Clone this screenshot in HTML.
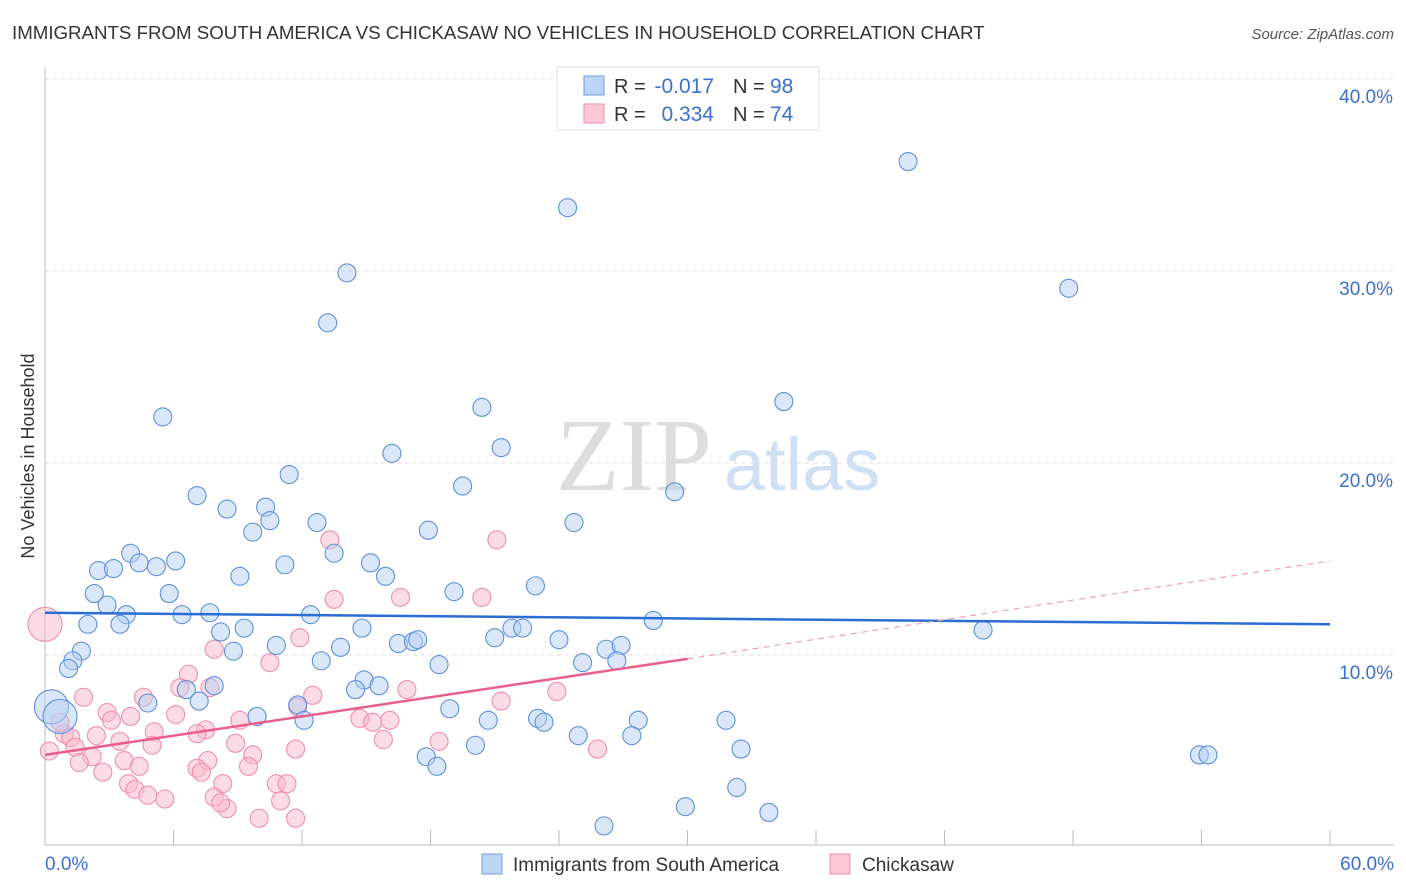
<!DOCTYPE html>
<html><head><meta charset="utf-8"><style>
body{margin:0;background:#fff;font-family:"Liberation Sans",sans-serif}
svg{display:block}
</style></head><body>
<svg id="c" width="1406" height="892" viewBox="0 0 1406 892" xmlns="http://www.w3.org/2000/svg">
<text x="12" y="39" font-size="18.7" fill="#333">IMMIGRANTS FROM SOUTH AMERICA VS CHICKASAW NO VEHICLES IN HOUSEHOLD CORRELATION CHART</text>
<text x="1394" y="39" font-size="15" fill="#555" text-anchor="end" font-style="italic">Source: ZipAtlas.com</text>
<g>
<text x="634" y="490" font-size="104" fill="#ddd" font-family="Liberation Serif,serif" text-anchor="middle">ZIP</text>
<text x="802" y="490" font-size="74" fill="#cfe0f3" text-anchor="middle">atlas</text>
</g>
<g id="grid"></g>
<g id="axes"></g>
<g id="pts"></g>
<g id="trend"></g>
<text transform="translate(34,456) rotate(-90)" font-size="18" fill="#333" text-anchor="middle">No Vehicles in Household</text>
<g>
<rect x="557" y="67" width="262" height="63" fill="#fff" stroke="#ddd"/>
<rect x="584" y="76" width="20" height="19" fill="#bcd4f5" stroke="#6c9be0"/>
<rect x="584" y="104" width="20" height="19" fill="#fcc8d8" stroke="#ee90ac"/>
<text x="614" y="93" font-size="20" fill="#333">R =</text>
<text x="714" y="93" font-size="21" fill="#3b6fd0" text-anchor="end">-0.017</text>
<text x="733" y="93" font-size="20" fill="#333">N =</text>
<text x="770" y="93" font-size="21" fill="#3b6fd0">98</text>
<text x="614" y="121" font-size="20" fill="#333">R =</text>
<text x="714" y="121" font-size="21" fill="#3b6fd0" text-anchor="end">0.334</text>
<text x="733" y="121" font-size="20" fill="#333">N =</text>
<text x="770" y="121" font-size="21" fill="#3b6fd0">74</text>
</g>
<g>
<rect x="482" y="854" width="20" height="20" fill="#bcd4f5" stroke="#6c9be0"/>
<text x="513" y="871" font-size="19" fill="#333">Immigrants from South America</text>
<rect x="830" y="854" width="20" height="20" fill="#fcc8d8" stroke="#ee90ac"/>
<text x="862" y="871" font-size="19" fill="#333">Chickasaw</text>
</g>
</svg>
<script>
const yTicks=[10,20,30,40];
const yTickLabels=["10.0%","20.0%","30.0%","40.0%"];
const xTickLabels=["0.0%","60.0%"];
const blueX=[40.3,24.4,47.8,14.1,13.2,34.5,5.5,20.4,21.3,16.2,11.4,19.5,29.4,7.1,8.5,10.3,10.5,12.7,9.7,24.7,17.9,4.0,4.4,6.1,5.2,2.5,3.2,13.5,15.2,11.2,9.1,15.9,22.9,2.3,5.8,19.1,2.9,3.8,6.4,7.7,12.4,3.5,2.0,28.4,9.3,8.2,14.8,43.8,21.8,22.3,21.0,24.0,16.5,10.8,17.2,17.4,8.8,13.8,26.2,26.9,1.7,1.3,1.1,12.9,25.1,26.7,18.4,14.9,7.9,6.6,14.5,15.6,11.8,7.2,4.8,18.9,20.7,12.1,23.0,23.3,27.7,31.8,9.9,24.9,27.4,20.1,32.5,17.8,18.3,53.9,54.3,32.3,29.9,33.8,26.1,0.3,0.7];
const blueY=[35.7,33.3,29.1,29.9,27.3,23.2,22.4,22.9,20.8,20.5,19.4,18.8,18.5,18.3,17.6,17.7,17.0,16.9,16.4,16.9,16.5,15.3,14.8,14.9,14.6,14.4,14.5,15.3,14.8,14.7,14.1,14.1,13.6,13.2,13.2,13.3,12.6,12.1,12.1,12.2,12.1,11.6,11.6,11.8,11.4,11.2,11.4,11.3,11.4,11.4,10.9,10.8,10.6,10.5,10.7,10.8,10.2,10.4,10.3,10.5,10.2,9.7,9.3,9.7,9.6,9.7,9.5,8.7,8.4,8.2,8.2,8.4,7.4,7.6,7.5,7.2,6.6,6.6,6.7,6.5,6.6,6.6,6.8,5.8,5.8,5.3,5.1,4.7,4.2,4.8,4.8,3.1,2.1,1.8,1.1,7.3,6.8];
const pinkX=[13.3,21.1,20.4,13.5,16.6,11.9,7.9,10.5,6.7,6.3,16.9,23.9,1.8,4.6,12.5,7.7,21.3,11.8,2.9,3.1,4.0,6.1,14.7,15.3,16.1,9.1,7.5,5.1,7.1,0.9,2.4,1.2,3.5,15.8,18.4,8.9,5.0,11.7,1.4,9.7,0.2,2.2,3.7,7.6,1.6,25.8,4.4,9.5,7.1,7.3,2.7,8.3,10.8,11.3,3.9,4.2,4.8,5.6,7.9,11.0,8.5,8.2,10.0,11.7,0.0,0.7];
const pinkY=[16.0,16.0,13.0,12.9,13.0,10.9,10.3,9.6,9.0,8.3,8.2,8.1,7.8,7.8,7.9,8.3,7.6,7.3,7.0,6.6,6.8,6.9,6.7,6.5,6.6,6.6,6.1,6.0,5.9,5.9,5.8,5.7,5.5,5.6,5.5,5.4,5.3,5.1,5.2,4.8,5.0,4.7,4.5,4.5,4.4,5.1,4.2,4.2,4.1,3.9,3.9,3.3,3.3,3.3,3.3,3.0,2.7,2.5,2.6,2.4,2.0,2.3,1.5,1.5,11.6,6.5];
const blueTrend=[[0,12.2],[60,11.6]];
const pinkTrend=[[0,4.8],[30,9.8]];
const pinkTrendExt=[[30,9.8],[60,14.9]];
const NS="http://www.w3.org/2000/svg";
const X=v=>45+v/60*1285, Y=v=>847-v*19.2;
function mk(t,a,p){const e=document.createElementNS(NS,t);for(const k in a)e.setAttribute(k,a[k]);document.getElementById(p).appendChild(e);return e;}
yTicks.forEach((t,i)=>{
 const g=mk('line',{x1:45,x2:1394,y1:Y(t),y2:Y(t),stroke:'#ddd','stroke-dasharray':'4,4'},'grid');
 
 
 const l=mk('text',{x:1393,y:Y(t)+24,'font-size':19,fill:'#3b6fd0','text-anchor':'end'},'axes');l.textContent=yTickLabels[i];
 
 
});
let a=mk('line',{x1:45,x2:45,y1:68,y2:845,stroke:'#bbb'},'axes');


a=mk('line',{x1:45,x2:1394,y1:845,y2:845,stroke:'#bbb'},'axes');


for(let i=0;i<=10;i++){const t=mk('line',{x1:X(i*6),x2:X(i*6),y1:830,y2:845,stroke:'#bbb'},'axes');
 
 }
[[0,'start',45],[60,'end',1394]].forEach((d,i)=>{const l=mk('text',{x:d[2],y:870,'font-size':19,fill:'#3b6fd0','text-anchor':d[1]},'axes');l.textContent=xTickLabels[i];
 
 });
function dots(xs,ys,fill,stroke,name){xs.forEach((x,i)=>{
 const big=(name==='blue-point'&&i>=xs.length-2)||(name==='pink-point'&&i===xs.length-2);
 const c=mk('circle',{cx:X(x),cy:Y(ys[i]),r:big?17:9,fill:fill,'fill-opacity':0.5,stroke:stroke,'stroke-width':1.1},'pts');
 
 });}
dots(pinkX,pinkY,'#f8b8cc','#ee8fab','pink-point');
dots(blueX,blueY,'#b5cff2','#5d8fdc','blue-point');
function line(p,col,w,dash,name){const l=mk('line',{x1:X(p[0][0]),y1:Y(p[0][1]),x2:X(p[1][0]),y2:Y(p[1][1]),stroke:col,'stroke-width':w},'trend');if(dash)l.setAttribute('stroke-dasharray',dash);
 
 }
line(blueTrend,'#2a6dd4',2.5,null,'blue-trend-line');
line(pinkTrend,'#e8608a',2.5,null,'pink-trend-line');
line(pinkTrendExt,'#eea0b8',1.2,'6,5','pink-trend-extension');
</script>
</body></html>
